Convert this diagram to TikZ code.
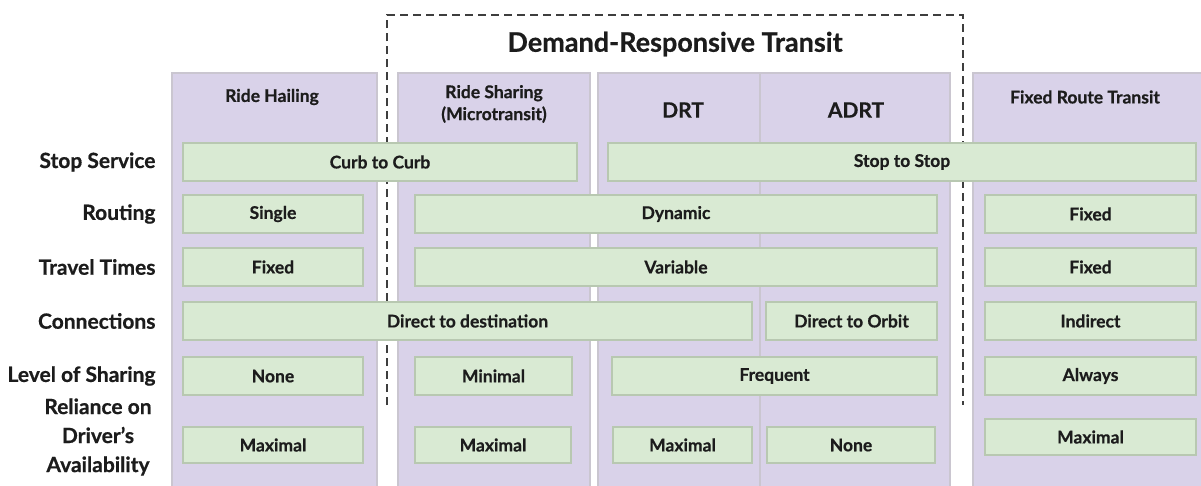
\documentclass[tikz,border=0pt]{standalone}
\usepackage{fontspec}
\setmainfont{Lato}[BoldFeatures={FakeBold=0.6}]
\usepackage{tikz}
\usetikzlibrary{positioning,calc}
\definecolor{purplefill}{HTML}{D9D2E9}
\definecolor{colborder}{HTML}{CAC6D0}
\definecolor{greenfill}{HTML}{D9EAD3}
\definecolor{barborder}{HTML}{B8C8B1}
\definecolor{inkdark}{HTML}{1C1C1C}
\tikzset{
col/.style = {draw=colborder, line width=2.5pt, fill=purplefill, rectangle, minimum height=422pt},
colline/.style = {draw=colborder, line width=2.5pt},
bar/.style = {draw=barborder, line width=1.5pt, fill=greenfill, rectangle, minimum height=38pt, text=inkdark, font=\bfseries\fontsize{17.5}{20}\selectfont},
rowlbl/.style = {anchor=east, text=inkdark, font=\bfseries\fontsize{21}{29}\selectfont},
hdr/.style = {text=inkdark, align=center, font=\bfseries\fontsize{17.5}{22}\selectfont},
bighdr/.style = {text=inkdark, font=\bfseries\fontsize{21}{22}\selectfont},
frame/.style = {draw=inkdark!85, line width=2pt, dash pattern=on 8pt off 5pt}
}
\begin{document}
\begin{tikzpicture}[x=1pt, y=-1pt]
  \clip (0,0) rectangle (1201,485);
  \fill[white] (0,0) rectangle (1201,485);

  % columns
  \node [col, minimum width=205pt]   (hail)  at (274.5,284)  {};
  \node [col, minimum width=192pt]   (share) at (494,284)    {};
  \node [col, minimum width=352pt]   (drt)   at (774,284)    {};
  \node [col, minimum width=237pt]   (frt)   at (1091.5,284) {};
  \coordinate (split) at (760,73);
  \draw [colline] (split) -- (split |- drt.south);

  % demand-responsive frame
  \coordinate (dl) at (387,405);
  \coordinate (tl) at (387,15);
  \coordinate (tr) at (963,15);
  \coordinate (dr) at (963,405);
  \draw [frame] (dl) -- (tl) -- (tr) -- (dr);
  \node [text=inkdark, font=\bfseries\fontsize{27}{30}\selectfont] (title) at (675,44) {Demand-Responsive Transit};

  % headers
  \node [hdr]    (hhail)  at (272,97)   {Ride Hailing};
  \node [hdr]    (hshare) at (494,104)  {Ride Sharing\\(Microtransit)};
  \node [bighdr] (hdrt)   at (683,110)  {DRT};
  \node [bighdr] (hadrt)  at (856,110)  {ADRT};
  \node [hdr]    (hfrt)   at (1085,97)  {Fixed Route Transit};

  % row labels
  \node [rowlbl] (lstop)  at (159,162) {Stop Service};
  \node [rowlbl] (lroute) at (159,214) {Routing};
  \node [rowlbl] (ltime)  at (159,267) {Travel Times};
  \node [rowlbl] (lconn)  at (159,321) {Connections};
  \node [rowlbl] (lshare) at (159,376) {Level of Sharing};
  \node [rowlbl, anchor=center, align=center] (lrely) at (98,437) {Reliance on\\Driver's\\Availability};

  % stop service
  \node [bar, minimum width=394pt] (curb)  at (380,162)    {Curb to Curb};
  \node [bar, minimum width=588pt] (stop)  at (902,162)    {Stop to Stop};
  % routing
  \node [bar, minimum width=180pt] (single)  at (273,214)    {Single};
  \node [bar, minimum width=522pt] (dynamic) at (676,214)    {Dynamic};
  \node [bar, minimum width=211pt] (fixroute) at (1090.5,214) {Fixed};
  % travel times
  \node [bar, minimum width=180pt] (fixhail)  at (273,267)    {Fixed};
  \node [bar, minimum width=522pt] (variable) at (676,267)    {Variable};
  \node [bar, minimum width=211pt] (fixtime)  at (1090.5,267) {Fixed};
  % connections
  \node [bar, minimum width=569pt] (direct)   at (467.5,321)  {Direct to destination};
  \node [bar, minimum width=171pt] (orbit)    at (851.5,321)  {Direct to Orbit};
  \node [bar, minimum width=211pt] (indirect) at (1090.5,321) {Indirect};
  % sharing
  \node [bar, minimum width=180pt] (nonehail) at (273,376)    {None};
  \node [bar, minimum width=157pt] (minimal)  at (493.5,376)  {Minimal};
  \node [bar, minimum width=325pt] (frequent) at (774.5,376)  {Frequent};
  \node [bar, minimum width=211pt] (always)   at (1090.5,376) {Always};
  % reliance on driver
  \node [bar, minimum height=36pt, minimum width=180pt] (maxhail)  at (273,445)    {Maximal};
  \node [bar, minimum height=36pt, minimum width=156pt] (maxshare) at (493,445)    {Maximal};
  \node [bar, minimum height=36pt, minimum width=139pt] (maxdrt)   at (682.5,445)  {Maximal};
  \node [bar, minimum height=36pt, minimum width=168pt] (noneadrt) at (851,445)    {None};
  \node [bar, minimum height=36pt, minimum width=211pt] (maxfrt)   at (1090.5,437) {Maximal};
\end{tikzpicture}
\end{document}
